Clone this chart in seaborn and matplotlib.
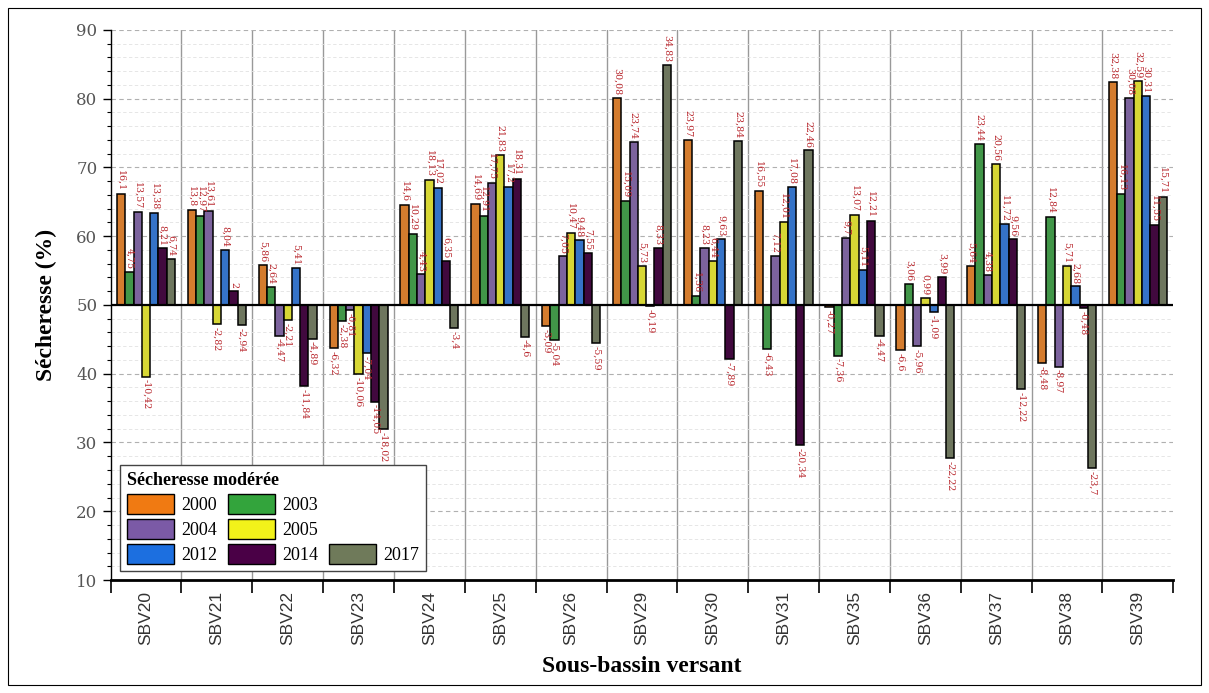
import matplotlib
matplotlib.use("Agg")
import matplotlib.pyplot as plt
import seaborn as sns
import pandas as pd
import numpy as np
from matplotlib.patches import Patch, Rectangle
from matplotlib.ticker import MultipleLocator

# Sub-basins and drought years
basins = ["SBV20", "SBV21", "SBV22", "SBV23", "SBV24", "SBV25", "SBV26", "SBV29",
          "SBV30", "SBV31", "SBV35", "SBV36", "SBV37", "SBV38", "SBV39"]
years = ["2000", "2003", "2004", "2005", "2012", "2014", "2017"]

# Drought deviation (%) from the 50 % reference, one list per year
v2000 = [16.1, 13.8, 5.86, -6.32, 14.6, 14.69, -3.09, 30.08, 23.97, 16.55, -0.27, -6.6, 5.64, -8.48, 32.38]
v2003 = [4.75, 12.97, 2.64, -2.38, 10.29, 12.91, -5.04, 15.09, 1.36, -6.43, -7.36, 3.06, 23.44, 12.84, 16.13]
v2004 = [13.57, 13.61, -4.47, -0.81, 4.43, 17.75, 7.05, 23.74, 8.23, 7.12, 9.7, -5.96, 4.38, -8.97, 30.08]
v2005 = [-10.42, -2.82, -2.21, -10.06, 18.13, 21.83, 10.47, 5.73, 6.44, 12.01, 13.07, 0.99, 20.56, 5.71, 32.59]
v2012 = [13.38, 8.04, 5.41, -7.04, 17.02, 17.2, 9.48, -0.19, 9.63, 17.08, 5.11, -1.09, 11.72, 2.68, 30.31]
v2014 = [8.21, 2, -11.84, -14.05, 6.35, 18.31, 7.55, 8.33, -7.89, -20.34, 12.21, 3.99, 9.56, -0.48, 11.55]
v2017 = [6.74, -2.94, -4.89, -18.02, -3.4, -4.6, -5.59, 34.83, 23.84, 22.46, -4.47, -22.22, -12.22, -23.7, 15.71]
series = [v2000, v2003, v2004, v2005, v2012, v2014, v2017]

palette = ["#f07a12", "#33a43c", "#7b5aa6", "#f2f21a", "#1c6fe0", "#4a0046", "#6f7a5a"]
baseline = 50

df = pd.DataFrame({
    "basin": np.repeat(basins, len(years)),
    "year": years * len(basins),
    "value": [series[j][i] for i in range(len(basins)) for j in range(len(years))],
})

fig = plt.figure(figsize=(12.09, 6.93), dpi=100)
ax = fig.add_axes([0.0915, 0.163, 0.879, 0.794])

sns.barplot(data=df, x="basin", y="value", hue="year", order=basins, hue_order=years,
            palette=palette, width=0.82, gap=0, edgecolor="black", linewidth=1.1,
            bottom=baseline, legend=False, ax=ax, zorder=3)

# value labels, written vertically beside each bar end
for cont, vals in zip(ax.containers, series):
    for bar, v in zip(cont.patches, vals):
        xc = bar.get_x() + bar.get_width() / 2
        txt = f"{v:g}".replace(".", ",")
        if v >= 0:
            ax.text(xc, baseline + v + 0.4, txt, rotation=270, ha="center", va="bottom",
                    fontsize=6.8, color="#b8262c", family="DejaVu Serif", zorder=4)
        else:
            ax.text(xc, baseline + v - 0.4, txt, rotation=270, ha="center", va="top",
                    fontsize=6.8, color="#b8262c", family="DejaVu Serif", zorder=4)

ax.set_xlim(-0.5, len(basins) - 0.5)
ax.set_ylim(10, 90)
ax.axhline(baseline, color="black", lw=1.6, zorder=3.5)

# group separators
for i in range(len(basins) - 1):
    ax.axvline(i + 0.5, color="#999999", lw=1.0, zorder=1)

ax.yaxis.set_major_locator(MultipleLocator(10))
ax.yaxis.set_minor_locator(MultipleLocator(2))
ax.grid(False)
ax.grid(axis="y", which="major", linestyle=(0, (4, 3)), color="#b0b0b0", lw=0.8, zorder=0)
ax.grid(axis="y", which="minor", linestyle=(0, (4, 3)), color="#e2e2e2", lw=0.6, zorder=0)

ax.set_xticks(range(len(basins)))
ax.set_xticklabels(basins, rotation=90, family="Liberation Sans", fontsize=12.5, color="#333333")
ax.set_xticks([i + 0.5 for i in range(-1, len(basins))], minor=True)
ax.tick_params(axis="x", which="major", length=0, pad=8)
ax.tick_params(axis="x", which="minor", length=9, width=1.2, direction="out", color="black")
ax.tick_params(axis="y", which="major", length=6, width=1, direction="out", labelsize=12,
               labelcolor="#555555")
ax.tick_params(axis="y", which="minor", length=3, width=0.8, direction="out")
for lab in ax.get_yticklabels():
    lab.set_family("DejaVu Serif")

for s in ["top", "right"]:
    ax.spines[s].set_visible(False)
ax.spines["left"].set_linewidth(1.0)
ax.spines["bottom"].set_linewidth(2.0)

ax.set_xlabel("Sous-bassin versant", fontsize=17, fontweight="bold", family="Liberation Serif",
              labelpad=8)
ax.set_ylabel("Sécheresse (%)", fontsize=17, fontweight="bold", family="Liberation Serif",
              labelpad=14)

# legend laid out in three rows: 2000/2003, 2004/2005, 2012/2014/2017
h = {y: Patch(facecolor=c, edgecolor="black", lw=1.0) for y, c in zip(years, palette)}
blank = Patch(facecolor="none", edgecolor="none")
handles = [h["2000"], h["2004"], h["2012"], h["2003"], h["2005"], h["2014"], blank, blank, h["2017"]]
labels = ["2000", "2004", "2012", "2003", "2005", "2014", "", "", "2017"]
leg = ax.legend(handles, labels, ncol=3, loc="lower left", bbox_to_anchor=(0.0, 0.0),
                title="Sécheresse modérée", frameon=True, fancybox=False, framealpha=1,
                edgecolor="#444444", handlelength=2.6, handleheight=1.35, columnspacing=0.6,
                handletextpad=0.4, labelspacing=0.25, borderpad=0.4,
                prop={"family": "Liberation Serif", "size": 13},
                title_fontproperties={"family": "Liberation Serif", "weight": "bold", "size": 13})
leg._legend_box.align = "left"
leg.set_zorder(6)

fig.patches.append(Rectangle((0.007, 0.011), 0.986, 0.978, transform=fig.transFigure,
                             fill=False, edgecolor="black", lw=0.8))

fig.savefig("out.png", dpi=100)
